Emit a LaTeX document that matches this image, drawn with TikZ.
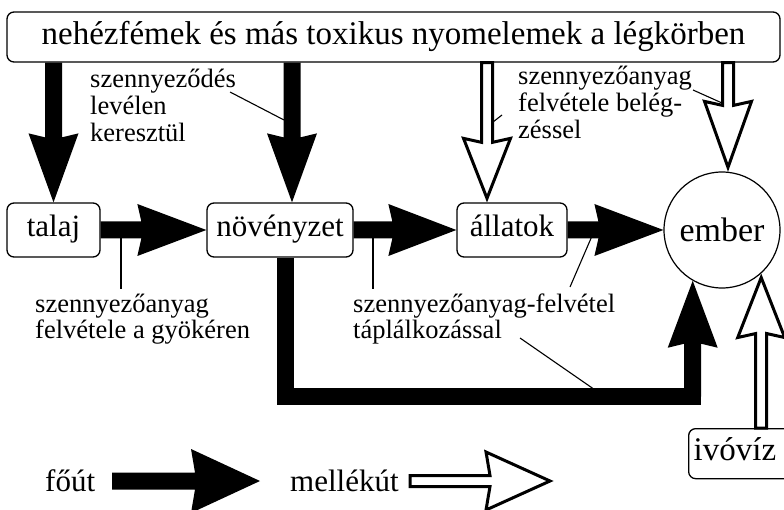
\documentclass[tikz,border=0pt]{standalone}
\usepackage{fontspec}
\setmainfont{Liberation Serif}
\usetikzlibrary{calc}
\begin{document}
\begin{tikzpicture}[x=1pt,y=-1pt,
  nodebox/.style={draw,line width=1.3pt,rounded corners=7pt,inner sep=0pt,
    font=\fontsize{31}{31}\selectfont,text height=21pt,text depth=7pt,minimum height=54pt},
  % multi-line notes are placed by the baseline of their last line
  note/.style={align=left,inner sep=0pt,anchor=base west,font=\fontsize{26.5}{27}\selectfont},
  legendtext/.style={inner sep=0pt,anchor=base west,font=\fontsize{31}{31}\selectfont},
  lead/.style={line width=1.1pt},
  % filled arrow outline: shaft half-width, head half-width, head length, inset, tip offset
  arrowpoly/.style n args={5}{to path={
      ($(\tikztotarget)!#5!(\tikztostart)$) coordinate (ap-t)
      ($(ap-t)!#3!(\tikztostart)$) coordinate (ap-b)
      ($(ap-t)!#3+#4!(\tikztostart)$) coordinate (ap-c)
      ($(\tikztostart)!#1!90:(ap-t)$)
      -- ($(ap-b)!#1!90:(ap-t)$)
      -- ($(ap-c)!#2!90:(ap-t)$)
      -- (ap-t)
      -- ($(ap-c)!#2!-90:(ap-t)$)
      -- ($(ap-b)!#1!-90:(ap-t)$)
      -- ($(\tikztostart)!#1!-90:(ap-t)$)
      -- cycle}},
  mainpath/.style={fill=black,arrowpoly={8.5pt}{25pt}{65pt}{4pt}{0pt}},
  sidepath/.style={draw=black,fill=white,line width=3pt,line join=miter,
    arrowpoly={5.5pt}{23.5pt}{56pt}{4pt}{4pt}},
]
\useasboundingbox (0,0) rectangle (784,510);
\clip (0,0) rectangle (784,510);

% boxes
\node[nodebox,font=\fontsize{33}{33}\selectfont,text height=23pt,text depth=7pt,
  minimum width=773pt,minimum height=50pt] (title) at (393.5,37)
  {nehézfémek és más toxikus nyomelemek a légkörben};
\node[nodebox,minimum width=93pt] (talaj) at (53.5,230) {talaj};
\node[nodebox,minimum width=146pt] (novenyzet) at (280,230) {növényzet};
\node[nodebox,minimum width=110pt] (allatok) at (512,230) {állatok};
\node[draw,circle,line width=1.2pt,minimum size=116pt,inner sep=0pt,
  font=\fontsize{34}{34}\selectfont] (ember) at (722,230) {ember};
\node[nodebox,anchor=north west,text width=95pt,align=left,inner xsep=5pt,
  minimum height=50pt,font=\fontsize{33}{33}\selectfont] (ivoviz) at (688,428) {ivóvíz};

% main pathways
\path[mainpath] (title.south -| talaj.north) to (talaj.north);
\path[mainpath] (title.south -| 292,0) to (novenyzet.north -| 292,0);
\path[mainpath,arrowpoly={8.5pt}{26pt}{65pt}{4pt}{0pt}] (talaj.east) to (novenyzet.west);
\path[mainpath,arrowpoly={8.5pt}{26pt}{64pt}{4pt}{0pt}] (novenyzet.east) to (allatok.west);
\path[mainpath,arrowpoly={8.5pt}{26pt}{65pt}{4pt}{0pt}] (allatok.east) to (ember.west);

% plant -> human detour
\coordinate (Ltip) at (ember.240);
\coordinate (Lcorner) at (ember.240 |- 0,396.5);
\draw[line width=17pt] (novenyzet.south -| 285,0) |- (Lcorner) -- ++(0,-20);
\path[mainpath,arrowpoly={8.5pt}{25pt}{63pt}{4pt}{0pt}] (Lcorner) to (Ltip);

% side pathways
\path[sidepath] (title.south -| 487,0) to (allatok.north -| 487,0);
\path[sidepath,arrowpoly={5.5pt}{23.5pt}{62pt}{4pt}{4pt}] (title.south -| 728,0) to (ember.north -| 728,0);
\path[sidepath] (ivoviz.north -| ember.-48) to (ember.-48);

% labels
\node[note] (n1) at (90,142) {szennyeződés\\levélen\\keresztül};
\node[note] (n2) at (35,339) {szennyezőanyag\\felvétele a gyökéren};
\node[note] (n3) at (353,339) {szennyezőanyag-felvétel\\táplálkozással};
\node[note] (n4) at (518,139) {szennyezőanyag\\felvétele belég-\\zéssel};

% leader lines
\coordinate (l1a) at (230,92);   \coordinate (l1b) at (284,120);
\coordinate (l2a) at (121,230);  \coordinate (l2b) at (121,289);
\coordinate (l3a) at (373,230);  \coordinate (l3b) at (373,289);
\coordinate (l4a) at (592,236);  \coordinate (l4b) at (570,287);
\coordinate (l5a) at (520,338);  \coordinate (l5b) at (598,392);
\coordinate (l6a) at (502,115);  \coordinate (l6b) at (493,122);
\coordinate (l7a) at (693,90);   \coordinate (l7b) at (722,103);
\foreach \i in {1,...,7} \draw[lead] (l\i a) -- (l\i b);

% legend
\node[legendtext] (fout) at (45,491) {főút};
\node[legendtext] (mellekut) at (290,491) {mellékút};
\coordinate (fa) at (112,481); \coordinate (fb) at (260,481);
\coordinate (ma) at (410,481); \coordinate (mb) at (554,481);
\path[mainpath,arrowpoly={8.5pt}{32pt}{65pt}{4pt}{0pt}] (fa) to (fb);
\path[sidepath,arrowpoly={5.5pt}{29pt}{60pt}{4pt}{4pt}] (ma) to (mb);
\end{tikzpicture}
\end{document}
